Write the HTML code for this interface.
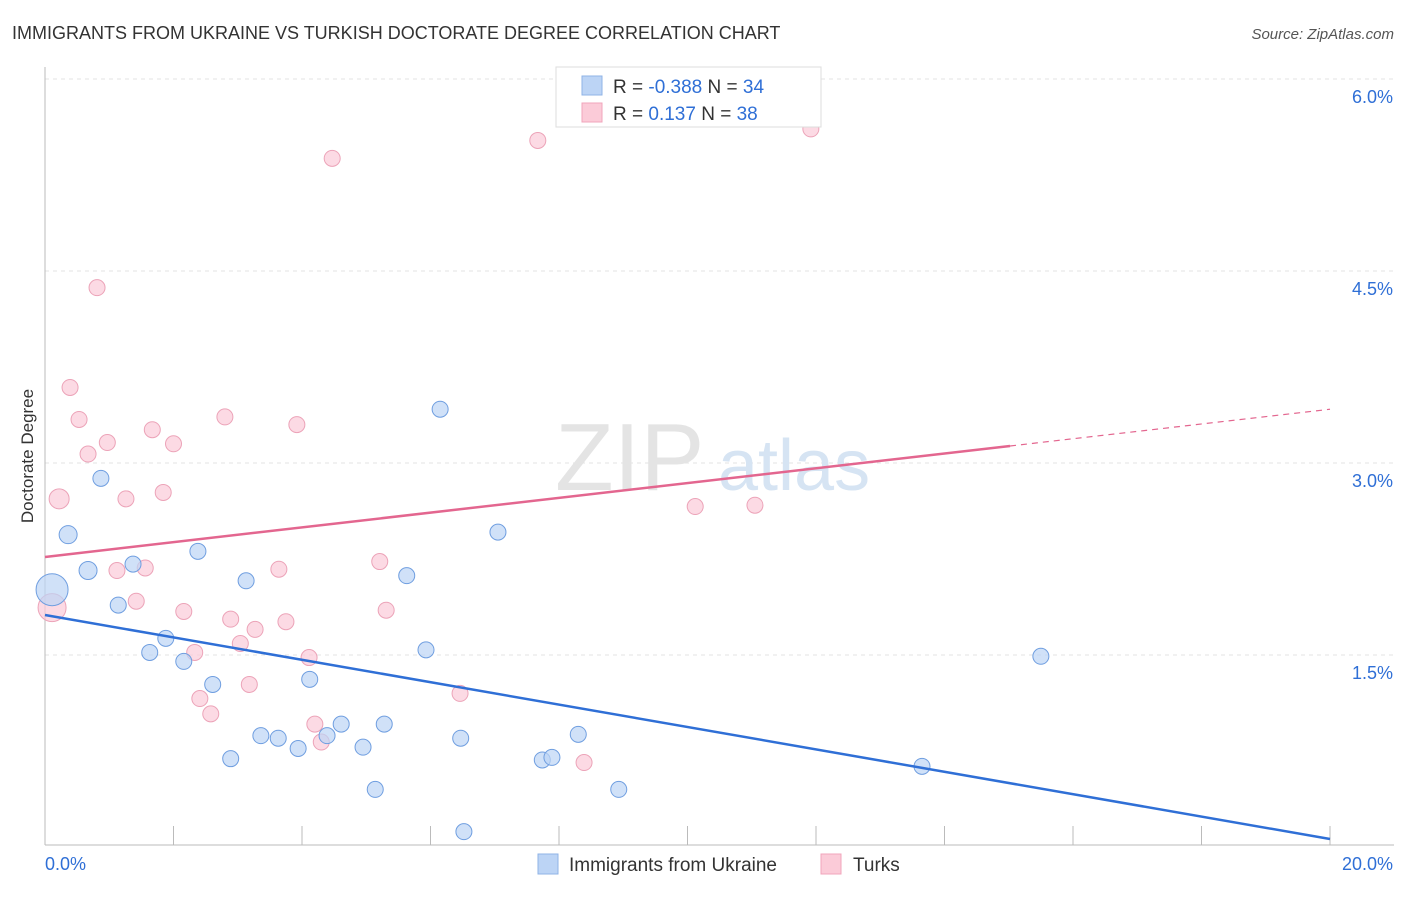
<!DOCTYPE html>
<html><head><meta charset="utf-8"><style>
body{margin:0;background:#fff;font-family:"Liberation Sans",sans-serif;}
svg text{font-family:"Liberation Sans",sans-serif;}
</style></head><body>
<svg id="chart" width="1406" height="892" xmlns="http://www.w3.org/2000/svg">
<text x="12" y="39" font-size="18" fill="#333">IMMIGRANTS FROM UKRAINE VS TURKISH DOCTORATE DEGREE CORRELATION CHART</text>
<text x="1394" y="39" font-size="15" fill="#555" text-anchor="end" font-style="italic">Source: ZipAtlas.com</text>
<g id="grid"></g>
<g id="watermark">
<text x="555" y="490" font-size="96" fill="#e4e4e4" font-family="Liberation Serif, serif">ZIP</text>
<text x="718" y="490" font-size="72" fill="#d6e4f3">atlas</text>
</g>
<text transform="translate(33,456) rotate(-90)" font-size="17" fill="#333" text-anchor="middle">Doctorate Degree</text>
<g id="marks"></g>
<g>
<rect x="556" y="67" width="265" height="60" fill="#fff" stroke="#ddd"/>
<rect x="582" y="76" width="20" height="19" fill="#bcd4f5" stroke="#8fb3e6"/>
<rect x="582" y="103" width="20" height="19" fill="#fbcbd8" stroke="#f0a5bb"/>
<text x="613" y="93" font-size="19" fill="#333">R = <tspan fill="#2f6fd6">-0.388</tspan>   N = <tspan fill="#2f6fd6">34</tspan></text>
<text x="613" y="120" font-size="19" fill="#333">R =    <tspan fill="#2f6fd6">0.137</tspan>   N = <tspan fill="#2f6fd6">38</tspan></text>
</g>
<g>
<rect x="538" y="854" width="20" height="20" fill="#bcd4f5" stroke="#8fb3e6"/>
<text x="569" y="871" font-size="19" fill="#333">Immigrants from Ukraine</text>
<rect x="821" y="854" width="20" height="20" fill="#fbcbd8" stroke="#f0a5bb"/>
<text x="853" y="871" font-size="19" fill="#333">Turks</text>
</g>
</svg>
<script>
const xTicks=[0,2,4,6,8,10,12,14,16,18,20];
const yTicks=[1.5,3.0,4.5,6.0];
const ukraineX=[0.11,0.36,0.67,0.87,1.14,1.37,1.63,1.88,2.16,2.38,2.61,2.89,3.13,3.36,3.63,3.94,4.12,4.39,4.61,4.95,5.14,5.28,5.63,5.93,6.15,6.47,6.52,7.05,7.74,7.89,8.30,8.93,13.65,15.50];
const ukraineY=[2.01,2.44,2.16,2.88,1.89,2.21,1.52,1.63,1.45,2.31,1.27,0.69,2.08,0.87,0.85,0.77,1.31,0.87,0.96,0.78,0.45,0.96,2.12,1.54,3.42,0.85,0.12,2.46,0.68,0.70,0.88,0.45,0.63,1.49];
const ukraineR=[16,9,9,8,8,8,8,8,8,8,8,8,8,8,8,8,8,8,8,8,8,8,8,8,8,8,8,8,8,8,8,8,8,8];
const turksX=[0.11,0.22,0.39,0.53,0.67,0.81,0.97,1.12,1.26,1.42,1.56,1.67,1.84,2.00,2.16,2.33,2.41,2.58,2.80,2.89,3.04,3.18,3.27,3.64,3.75,3.92,4.11,4.20,4.30,4.47,5.21,5.31,6.46,7.67,8.39,10.12,11.05,11.92];
const turksY=[1.87,2.72,3.59,3.34,3.07,4.37,3.16,2.16,2.72,1.92,2.18,3.26,2.77,3.15,1.84,1.52,1.16,1.04,3.36,1.78,1.59,1.27,1.70,2.17,1.76,3.30,1.48,0.96,0.82,5.38,2.23,1.85,1.20,5.52,0.66,2.66,2.67,5.61];
const turksR=[14,10,8,8,8,8,8,8,8,8,8,8,8,8,8,8,8,8,8,8,8,8,8,8,8,8,8,8,8,8,8,8,8,8,8,8,8,8];
const ukraineTrend=[[0,1.8125],[20,0.0625]];
const turksTrendSolid=[[0,2.266],[15.02,3.133]];
const turksTrendDash=[[15.02,3.133],[20,3.42]];
const X=v=>45+v*64.25, Y=v=>847-v*128;
const NS="http://www.w3.org/2000/svg";
const svg=document.getElementById('chart'), grid=document.getElementById('grid'), marks=document.getElementById('marks');
function mk(tag,attrs,parent){const e=document.createElementNS(NS,tag);for(const k in attrs)e.setAttribute(k,attrs[k]);parent.appendChild(e);return e;}
yTicks.forEach(t=>{
 const l=mk('line',{x1:45,x2:1394,y1:Y(t),y2:Y(t),stroke:'#e3e3e3','stroke-dasharray':'4,4'},grid);
 
 
 const tx=mk('text',{x:1393,y:Y(t)+24,'font-size':18,fill:'#2f6fd6','text-anchor':'end'},grid);
 tx.textContent=t.toFixed(1)+'%';
 
 
});
const ax=mk('line',{x1:45,x2:45,y1:67,y2:845,stroke:'#bbb'},grid);


const bx=mk('line',{x1:45,x2:1394,y1:845,y2:845,stroke:'#bbb'},grid);


xTicks.forEach(t=>{
 const l=mk('line',{x1:X(t),x2:X(t),y1:826,y2:845,stroke:'#bbb'},grid);
 
 
});
[[0,'start'],[20,'end']].forEach(([t,a])=>{
 const tx=mk('text',{x:t===0?X(t):1393,y:870,'font-size':18,fill:'#2f6fd6','text-anchor':a},grid);
 tx.textContent=t.toFixed(1)+'%';
 
 
});
turksX.forEach((x,i)=>{
 const c=mk('circle',{cx:X(x),cy:Y(turksY[i]),r:turksR[i],fill:'#fbcbd8','fill-opacity':0.7,stroke:'#eca3b8'},marks);
 
 
});
ukraineX.forEach((x,i)=>{
 const c=mk('circle',{cx:X(x),cy:Y(ukraineY[i]),r:ukraineR[i],fill:'#bcd4f5','fill-opacity':0.7,stroke:'#6f9ee0'},marks);
 
 
});
const t1=mk('line',{x1:X(ukraineTrend[0][0]),y1:Y(ukraineTrend[0][1]),x2:X(ukraineTrend[1][0]),y2:Y(ukraineTrend[1][1]),stroke:'#2f6fd6','stroke-width':2.5},marks);


const t2=mk('line',{x1:X(turksTrendSolid[0][0]),y1:Y(turksTrendSolid[0][1]),x2:X(turksTrendSolid[1][0]),y2:Y(turksTrendSolid[1][1]),stroke:'#e3668f','stroke-width':2.5},marks);


const t3=mk('line',{x1:X(turksTrendDash[0][0]),y1:Y(turksTrendDash[0][1]),x2:X(turksTrendDash[1][0]),y2:Y(turksTrendDash[1][1]),stroke:'#e3668f','stroke-width':1.2,'stroke-dasharray':'6,5'},marks);


</script>
</body></html>
